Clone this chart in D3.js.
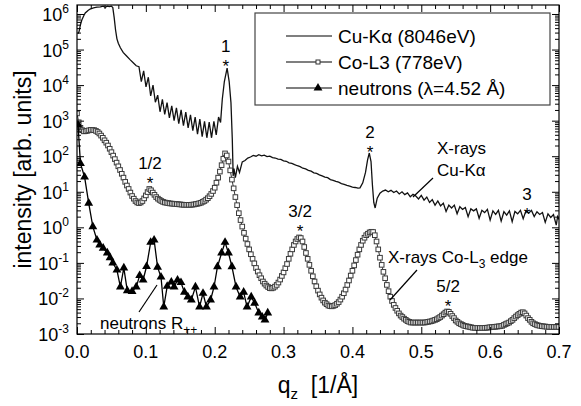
<!DOCTYPE html>
<html>
<head>
<meta charset="utf-8">
<script src="https://d3js.org/d3.v7.min.js"></script>
<style>
  body { margin: 0; background: #fff; }
  svg { display: block; font-family: "Liberation Sans", Arial, sans-serif; }
</style>
</head>
<body>
<div id="chart"></div>
<script>
'use strict';

// ---- data (q_z in 1/A, intensity in arb. units) ----
const cuKa = [
  [0.0015,2.8e5],[0.003,3.2e5],[0.005,5.0e5],[0.007,6.8e5],[0.010,9.1e5],[0.012,1.07e6],
  [0.016,1.26e6],[0.019,1.38e6],[0.024,1.48e6],[0.029,1.55e6],[0.034,1.58e6],[0.038,1.66e6],
  [0.041,1.55e6],[0.044,1.66e6],[0.047,1.62e6],[0.050,1.66e6],[0.052,1.51e6],[0.054,7.9e5],
  [0.056,3.55e5],[0.058,2.0e5],[0.060,1.5e5],[0.063,1.12e5],[0.067,8.3e4],[0.072,6.6e4],
  [0.077,5.2e4],[0.082,4.2e4],[0.086,3.5e4],
  [0.0900,3.3e4],[0.0934,1.26e4],[0.0968,2.5e4],[0.1002,8.9e3],[0.1036,1.66e4],[0.1070,5.0e3],
  [0.1104,1.0e4],[0.1138,3.3e3],[0.1172,5.2e3],[0.1206,1.78e3],[0.1240,4.0e3],[0.1274,1.51e3],
  [0.1308,3.2e3],[0.1342,1.2e3],[0.1376,2.6e3],[0.1410,1.0e3],[0.1444,2.3e3],[0.1478,830],
  [0.1512,2.0e3],[0.1546,720],[0.1580,1.74e3],[0.1614,630],[0.1648,1.45e3],[0.1682,525],
  [0.1716,1.26e3],[0.1750,420],[0.1784,1.1e3],[0.1818,355],[0.1852,955],[0.1886,330],
  [0.1920,910],[0.1954,330],[0.1988,955],[0.2022,400],[0.2056,1.26e3],[0.2085,890],
  [0.2110,4.0e3],[0.2140,1.26e4],[0.2180,3.0e4],[0.2210,1.26e4],[0.2236,3.2e3],[0.2255,316],
  [0.2268,28],[0.2280,45],[0.2300,25],[0.2330,52],[0.2360,35],[0.2400,69],[0.2440,76],
  [0.2480,89],[0.2520,95],[0.2560,105],[0.2600,100],[0.2640,110],[0.2680,102],[0.2720,107],
  [0.2760,98],[0.2800,100],[0.2840,91],[0.2880,89],[0.2920,83],[0.2960,81],[0.3000,74],
  [0.3040,72],[0.3080,65],[0.3120,63],[0.3160,58],[0.3200,54],[0.3240,51],[0.3280,46],
  [0.3320,44],[0.3360,40],[0.3400,38],[0.3440,34],[0.3480,33],[0.3520,30],[0.3560,28],
  [0.3600,26],[0.3640,25],[0.3680,22],[0.3720,21],[0.3760,19.5],[0.3800,18.6],[0.3840,17],
  [0.3880,16.2],[0.3920,15.1],[0.3960,14.5],[0.4000,13.5],[0.4040,13.2],[0.4080,12.6],
  [0.4110,12.9],[0.4150,17.8],[0.4190,35],[0.4220,79],[0.4245,123],[0.4270,71],[0.4290,15.8],
  [0.4310,5.0],[0.4330,3.5],[0.4360,6.6],[0.4400,9.1],[0.4440,10.5],[0.4480,11.2],[0.4520,10],
  [0.456,11],[0.460,9.5],[0.464,10.5],[0.468,8.7],[0.472,10],[0.476,8.3],[0.480,9.3],
  [0.484,7.2],[0.488,8.5],[0.492,7.6],[0.496,6.3],[0.500,7.9],[0.504,5.8],[0.508,7.1],
  [0.512,5.0],[0.516,6.0],[0.520,4.2],[0.524,5.5],[0.528,4.0],[0.532,4.8],[0.536,2.8],
  [0.540,4.2],[0.544,3.5],[0.548,4.2],[0.552,2.4],[0.556,3.8],[0.560,3.2],[0.564,3.6],
  [0.568,2.0],[0.572,3.3],[0.576,2.9],[0.580,3.3],[0.584,1.8],[0.588,3.0],[0.592,2.6],
  [0.596,3.2],[0.600,1.6],[0.604,2.9],[0.608,2.3],[0.612,3.0],[0.616,1.5],[0.620,2.75],
  [0.624,2.2],[0.628,2.9],[0.632,1.45],[0.636,2.8],[0.640,2.4],[0.644,3.0],[0.648,1.74],
  [0.652,2.9],[0.656,2.5],[0.660,3.0],[0.664,2.0],[0.668,2.75],[0.672,2.3],[0.676,2.6],
  [0.680,1.38],[0.684,2.4],[0.688,1.9],[0.692,2.3],[0.696,1.15],[0.698,2.0],[0.700,1.66]
];

const coL3 = [
  [0.0000,1600],[0.0025,900],[0.0050,630],[0.0075,540],[0.0100,500],[0.0125,505],
  [0.0150,520],[0.0175,535],[0.0200,550],[0.0225,550],[0.0250,540],[0.0275,515],
  [0.0300,480],[0.0325,435],[0.0350,380],[0.0375,330],[0.0400,280],[0.0425,240],
  [0.0450,200],[0.0475,162],[0.0500,130],[0.0525,104],[0.0550,83],[0.0575,66],
  [0.0600,52],[0.0625,41],[0.0650,32],[0.0675,25],[0.0700,19],[0.0725,15],
  [0.0750,12],[0.0775,9.5],[0.0800,7.6],[0.0825,6.4],[0.0850,5.5],[0.0875,5.0],
  [0.0900,4.8],[0.0925,5.0],[0.0950,5.5],[0.0975,6.5],[0.1000,7.9],[0.1025,9.8],
  [0.1050,12],[0.1075,11],[0.1100,9.5],[0.1125,8.2],[0.1150,7.1],[0.1175,6.4],
  [0.1200,5.9],[0.1225,5.5],[0.1250,5.2],[0.1275,5.0],[0.1300,4.9],[0.1325,4.8],
  [0.1350,4.7],[0.1375,4.65],[0.1400,4.6],[0.1425,4.55],[0.1450,4.5],[0.1475,4.45],
  [0.1500,4.4],[0.1525,4.35],[0.1550,4.3],[0.1575,4.3],[0.1600,4.3],[0.1625,4.3],
  [0.1650,4.3],[0.1675,4.35],[0.1700,4.4],[0.1725,4.5],[0.1750,4.6],[0.1775,4.75],
  [0.1800,4.9],[0.1825,5.2],[0.1850,5.5],[0.1875,6.0],[0.1900,6.6],[0.1925,7.5],
  [0.1950,8.7],[0.1975,10.5],[0.2000,13],[0.2025,18],[0.2050,25],[0.2075,37],
  [0.2100,56],[0.2125,85],[0.2150,120],[0.2175,105],[0.2200,71],[0.2225,40],
  [0.2250,22],[0.2275,12.5],[0.2300,7.1],[0.2325,4.2],[0.2350,2.5],[0.2375,1.6],
  [0.2400,1.05],[0.2425,0.70],[0.2450,0.48],[0.2475,0.34],[0.2500,0.24],[0.2525,0.175],
  [0.2550,0.13],[0.2575,0.097],[0.2600,0.072],[0.2625,0.057],[0.2650,0.045],[0.2675,0.037],
  [0.2700,0.030],[0.2725,0.026],[0.2750,0.023],[0.2775,0.021],[0.2800,0.0195],[0.2825,0.0192],
  [0.2850,0.020],[0.2875,0.0215],[0.2900,0.024],[0.2925,0.028],[0.2950,0.034],[0.2975,0.043],
  [0.3000,0.054],[0.3025,0.071],[0.3050,0.093],[0.3075,0.13],[0.3100,0.18],[0.3125,0.24],
  [0.3150,0.32],[0.3175,0.40],[0.3200,0.47],[0.3225,0.52],[0.3250,0.50],[0.3275,0.40],
  [0.3300,0.28],[0.3325,0.19],[0.3350,0.13],[0.3375,0.088],[0.3400,0.060],[0.3425,0.042],
  [0.3450,0.030],[0.3475,0.022],[0.3500,0.0166],[0.3525,0.013],[0.3550,0.0105],[0.3575,0.0088],
  [0.3600,0.0076],[0.3625,0.0069],[0.3650,0.0063],[0.3675,0.0061],[0.3700,0.0060],[0.3725,0.0062],
  [0.3750,0.0065],[0.3775,0.0071],[0.3800,0.0079],[0.3825,0.0093],[0.3850,0.0112],[0.3875,0.014],
  [0.3900,0.0178],[0.3925,0.024],[0.3950,0.032],[0.3975,0.044],[0.4000,0.060],[0.4025,0.085],
  [0.4050,0.12],[0.4075,0.17],[0.4100,0.24],[0.4125,0.32],[0.4150,0.42],[0.4175,0.51],
  [0.4200,0.60],[0.4225,0.66],[0.4250,0.72],[0.4275,0.75],[0.4300,0.74],[0.4325,0.60],
  [0.4350,0.40],[0.4375,0.24],[0.4400,0.14],[0.4425,0.088],[0.4450,0.056],[0.4475,0.037],
  [0.4500,0.024],[0.4525,0.016],[0.4550,0.0112],[0.4575,0.0085],[0.4600,0.0066],[0.4625,0.0054],
  [0.4650,0.0045],[0.4675,0.0038],[0.4700,0.0033],[0.4725,0.0030],[0.4750,0.0027],[0.4775,0.0025],
  [0.4800,0.0023],[0.4825,0.0022],[0.4850,0.0021],[0.4875,0.0021],[0.4900,0.0021],[0.4925,0.0021],
  [0.4950,0.0021],[0.4975,0.0021],[0.5000,0.0021],[0.5025,0.0021],[0.5050,0.0021],[0.5075,0.00215],
  [0.5100,0.0022],[0.5125,0.00225],[0.5150,0.0023],[0.5175,0.0024],[0.5200,0.0025],[0.5225,0.0026],
  [0.5250,0.0028],[0.5275,0.0030],[0.5300,0.0033],[0.5325,0.0036],[0.5350,0.0040],[0.5375,0.0043],
  [0.5400,0.0042],[0.5425,0.0037],[0.5450,0.0032],[0.5475,0.0028],[0.5500,0.0024],[0.5525,0.0022],
  [0.5550,0.0020],[0.5575,0.0019],[0.5600,0.0018],[0.5625,0.0017],[0.5650,0.00166],[0.5675,0.00162],
  [0.5700,0.00158],[0.5725,0.00154],[0.5750,0.0015],[0.5775,0.00149],[0.5800,0.00148],[0.5825,0.00148],
  [0.5850,0.00148],[0.5875,0.00148],[0.5900,0.00148],[0.5925,0.00149],[0.5950,0.0015],[0.5975,0.00152],
  [0.6000,0.00155],[0.6025,0.00156],[0.6050,0.00158],[0.6075,0.0016],[0.6100,0.00162],[0.6125,0.00164],
  [0.6150,0.00166],[0.6175,0.0017],[0.6200,0.0018],[0.6225,0.0019],[0.6250,0.0020],[0.6275,0.0021],
  [0.6300,0.0023],[0.6325,0.0025],[0.6350,0.0028],[0.6375,0.0031],[0.6400,0.0034],[0.6425,0.0037],
  [0.6450,0.0040],[0.6475,0.0041],[0.6500,0.0038],[0.6525,0.0033],[0.6550,0.0028],[0.6575,0.0025],
  [0.6600,0.0022],[0.6625,0.0020],[0.6650,0.0019],[0.6675,0.0018],[0.6700,0.00174],[0.6725,0.0017],
  [0.6750,0.00166],[0.6775,0.00164],[0.6800,0.00162],[0.6825,0.0016],[0.6850,0.00159],[0.6875,0.00158],
  [0.6900,0.00158],[0.6925,0.00158],[0.6950,0.00158],[0.6975,0.00158],[0.7000,0.00158]
];

const neutrons = [
  [0.0015,760],[0.005,63],[0.011,26],[0.017,4.8],[0.023,1.05],[0.029,0.44],[0.033,0.32],
  [0.038,0.26],[0.044,0.19],[0.048,0.14],[0.052,0.10],[0.058,0.063],[0.063,0.021],
  [0.068,0.072],[0.073,0.0166],[0.080,0.0158],[0.086,0.021],[0.091,0.044],[0.096,0.033],
  [0.101,0.079],[0.107,0.38],[0.112,0.44],[0.117,0.076],[0.122,0.040],[0.126,0.0058],
  [0.131,0.022],[0.137,0.029],[0.141,0.021],[0.146,0.033],[0.151,0.028],[0.156,0.015],
  [0.161,0.011],[0.166,0.0091],[0.172,0.021],[0.178,0.0058],[0.183,0.014],[0.188,0.0058],
  [0.194,0.0091],[0.199,0.021],[0.204,0.078],[0.210,0.19],[0.215,0.38],[0.220,0.19],
  [0.225,0.078],[0.231,0.021],[0.237,0.011],[0.242,0.015],[0.247,0.0058],[0.253,0.011],
  [0.258,0.0074],[0.264,0.0039],[0.269,0.0030],[0.273,0.0025],[0.277,0.0039]
];

// Bragg peak labels: name, position, intensity where the star sits
const peakNames = ["1/2", "1", "3/2", "2", "5/2", "3"];
const peakQ = [0.106, 0.216, 0.324, 0.4255, 0.539, 0.6535];
const peakStarI = [12, 2.3e4, 0.54, 89, 0.0042, 1.6];

const xTicks = [0, 0.1, 0.2, 0.3, 0.4, 0.5, 0.6, 0.7];
const yDecades = [-3, -2, -1, 0, 1, 2, 3, 4, 5, 6];

const legendNames = ["Cu-K\u03b1 (8046eV)", "Co-L3 (778eV)", "neutrons (\u03bb=4.52 \u00c5)"];

// ---- layout ----
const width = 581;
const height = 406;
const margin = { top: 5, right: 22, bottom: 72, left: 77 };
const plotW = width - margin.left - margin.right;
const plotH = height - margin.top - margin.bottom;

const svg = d3.select("#chart")
    .append("svg")
    .attr("width", width)
    .attr("height", height);

const x = d3.scaleLinear().domain([0, 0.7]).range([0, plotW]);
const y = d3.scaleLog().domain([1e-3, 1.79e6]).range([plotH, 0]);

const g = svg.append("g").attr("transform", `translate(${margin.left},${margin.top})`);

g.append("clipPath").attr("id", "clip")
    .append("rect").attr("width", plotW).attr("height", plotH);

const plot = g.append("g").attr("clip-path", "url(#clip)");

// ---- axes (ticks inside, mirrored) ----
const xMinor = d3.range(0, 0.7001, 0.02).filter(v => Math.abs(v * 10 - Math.round(v * 10)) > 1e-6);
const yMinor = [];
yDecades.forEach(k => {
    for (let m = 2; m <= 9; m++) {
        const v = m * Math.pow(10, k);
        if (v < 1.79e6) yMinor.push(v);
    }
});
const yMajor = yDecades.map(k => Math.pow(10, k));

function styleAxis(sel) {
    sel.select(".domain").remove();
    sel.selectAll("line").attr("stroke", "#000").attr("stroke-width", 1);
}

g.append("g").attr("transform", `translate(0,${plotH})`)
    .call(d3.axisBottom(x).tickValues(xTicks).tickSize(-7).tickFormat(""))
    .call(styleAxis);
g.append("g").attr("transform", `translate(0,${plotH})`)
    .call(d3.axisBottom(x).tickValues(xMinor).tickSize(-4).tickFormat(""))
    .call(styleAxis);
g.append("g")
    .call(d3.axisTop(x).tickValues(xTicks).tickSize(-7).tickFormat(""))
    .call(styleAxis);
g.append("g")
    .call(d3.axisTop(x).tickValues(xMinor).tickSize(-4).tickFormat(""))
    .call(styleAxis);

g.append("g")
    .call(d3.axisLeft(y).tickValues(yMajor).tickSize(-7).tickFormat(""))
    .call(styleAxis);
g.append("g")
    .call(d3.axisLeft(y).tickValues(yMinor).tickSize(-4).tickFormat(""))
    .call(styleAxis);
g.append("g").attr("transform", `translate(${plotW},0)`)
    .call(d3.axisRight(y).tickValues(yMajor).tickSize(-7).tickFormat(""))
    .call(styleAxis);
g.append("g").attr("transform", `translate(${plotW},0)`)
    .call(d3.axisRight(y).tickValues(yMinor).tickSize(-4).tickFormat(""))
    .call(styleAxis);

// x tick labels
g.selectAll(".xlab").data(xTicks).join("text")
    .attr("x", d => x(d))
    .attr("y", plotH + 24)
    .attr("text-anchor", "middle")
    .attr("font-size", 18)
    .text(d3.format(".1f"));

// y tick labels 10^k
const ylab = g.selectAll(".ylab").data(yDecades).join("text")
    .attr("x", -8)
    .attr("y", d => y(Math.pow(10, d)) + 7)
    .attr("text-anchor", "end")
    .attr("font-size", 18);
ylab.append("tspan").text("10");
ylab.append("tspan").attr("font-size", 12).attr("dy", -8).text(d => d);

// frame
g.append("rect").attr("width", plotW).attr("height", plotH)
    .attr("fill", "none").attr("stroke", "#000").attr("stroke-width", 1.2);

// axis titles
const xt = svg.append("text")
    .attr("x", margin.left + plotW / 2)
    .attr("y", 393)
    .attr("text-anchor", "middle")
    .attr("font-size", 23);
xt.append("tspan").text("q");
xt.append("tspan").attr("font-size", 15).attr("dy", 6).text("z");
xt.append("tspan").attr("dy", -6).text("\u00a0\u00a0[1/\u00c5]");

svg.append("text")
    .attr("transform", `translate(31,${margin.top + plotH / 2}) rotate(-90)`)
    .attr("text-anchor", "middle")
    .attr("font-size", 23)
    .text("intensity [arb. units]");

// ---- series ----
const line = d3.line().x(d => x(d[0])).y(d => y(d[1]));

plot.append("path").datum(cuKa)
    .attr("fill", "none").attr("stroke", "#111").attr("stroke-width", 1.3)
    .attr("d", line);

plot.append("path").datum(coL3)
    .attr("fill", "none").attr("stroke", "#333").attr("stroke-width", 1)
    .attr("d", line);
plot.selectAll(".co").data(coL3).join("rect")
    .attr("x", d => x(d[0]) - 2.3)
    .attr("y", d => y(d[1]) - 2.3)
    .attr("width", 4.6).attr("height", 4.6)
    .attr("fill", "#fff").attr("stroke", "#3a3a3a").attr("stroke-width", 1);

plot.append("path").datum(neutrons)
    .attr("fill", "none").attr("stroke", "#000").attr("stroke-width", 1.3)
    .attr("d", line);
const tri = d3.symbol().type(d3.symbolTriangle).size(34);
plot.selectAll(".nt").data(neutrons).join("path")
    .attr("transform", d => `translate(${x(d[0])},${y(d[1])})`)
    .attr("d", tri)
    .attr("fill", "#000");

// ---- annotations ----
g.selectAll(".star").data(peakNames).join("text")
    .attr("x", (d, i) => x(peakQ[i]))
    .attr("y", (d, i) => y(peakStarI[i]))
    .attr("text-anchor", "middle")
    .attr("font-size", 17)
    .text("*");
g.selectAll(".pk").data(peakNames).join("text")
    .attr("x", (d, i) => x(peakQ[i]))
    .attr("y", (d, i) => y(peakStarI[i]) - 20)
    .attr("text-anchor", "middle")
    .attr("font-size", 17)
    .text(d => d);

const cuNote = svg.append("text").attr("font-size", 17);
cuNote.append("tspan").attr("x", 437).attr("y", 154).text("X-rays");
cuNote.append("tspan").attr("x", 437).attr("y", 176).text("Cu-K\u03b1");

const coNote = svg.append("text").attr("x", 388).attr("y", 263).attr("font-size", 17);
coNote.append("tspan").text("X-rays Co-L");
coNote.append("tspan").attr("font-size", 12).attr("dy", 5).text("3");
coNote.append("tspan").attr("dy", -5).text(" edge");

const nNote = svg.append("text").attr("x", 100).attr("y", 329).attr("font-size", 17);
nNote.append("tspan").text("neutrons R");
nNote.append("tspan").attr("font-size", 12).attr("dy", 5).text("++");

const pointers = [
    [[433, 178], [413, 197]],
    [[417, 270], [390, 300]],
    [[157, 285], [139, 312]]
];
svg.selectAll(".ptr").data(pointers).join("path")
    .attr("d", d => d3.line()(d))
    .attr("stroke", "#000").attr("stroke-width", 1.2);

// ---- legend ----
const lg = svg.append("g");
lg.append("rect").attr("x", 255).attr("y", 13).attr("width", 295).attr("height", 92)
    .attr("fill", "#fff").attr("stroke", "#444").attr("stroke-width", 1.2);
const rowY = [36, 62, 88];
legendNames.forEach((name, i) => {
    lg.append("line").attr("x1", 286).attr("x2", 332).attr("y1", rowY[i]).attr("y2", rowY[i])
        .attr("stroke", "#000").attr("stroke-width", 1.2);
    lg.append("text").attr("x", 338).attr("y", rowY[i] + 7).attr("font-size", 19).text(name);
});
lg.append("rect").attr("x", 316).attr("y", rowY[1] - 2).attr("width", 4).attr("height", 4)
    .attr("fill", "#fff").attr("stroke", "#333");
lg.append("path").attr("transform", `translate(318,${rowY[2]})`)
    .attr("d", d3.symbol().type(d3.symbolTriangle).size(34)).attr("fill", "#000");
</script>
</body>
</html>
